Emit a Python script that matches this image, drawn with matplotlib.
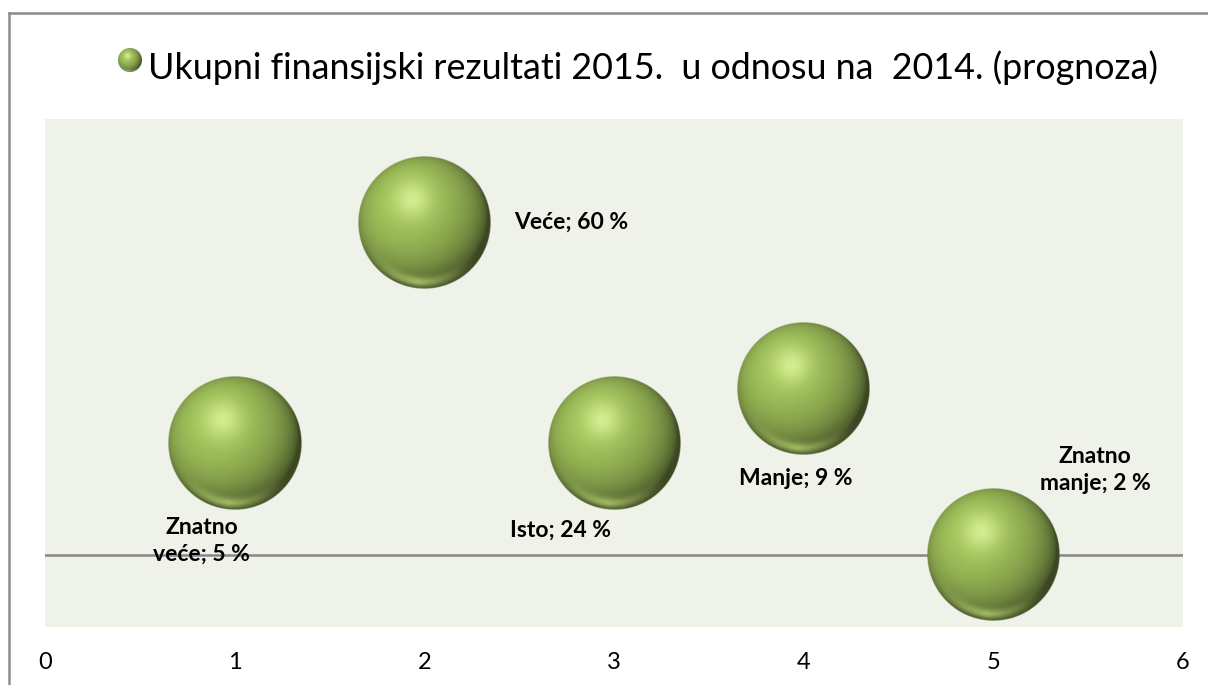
import numpy as np
import matplotlib
matplotlib.use("Agg")
import matplotlib.pyplot as plt
from matplotlib.lines import Line2D

# ---- data ----
categories = ["Znatno veće", "Veće", "Isto", "Manje", "Znatno manje"]
shares = [5, 60, 24, 9, 2]
x_vals = [1, 2, 3, 4, 5]
y_vals = [1, 3, 1, 1.5, 0]
bubble_sizes = [1, 1, 1, 1, 1]
x_ticks = [0, 1, 2, 3, 4, 5, 6]
title = "Ukupni finansijski rezultati 2015.  u odnosu na  2014. (prognoza)"

W, H = 1208, 685
DPI = 100
fig = plt.figure(figsize=(W / DPI, H / DPI), dpi=DPI)
fig.patch.set_facecolor("white")

FONT = ["Lato", "DejaVu Sans"]


def sphere_img(n=301):
    t = np.linspace(-1, 1, n)
    X, Y = np.meshgrid(t, -t)
    R = np.sqrt(X ** 2 + Y ** 2)
    Z = np.sqrt(np.clip(1 - R ** 2, 0, 1))
    L = np.array([-0.3, 0.35, 0.9])
    L = L / np.linalg.norm(L)
    diff = np.clip(X * L[0] + Y * L[1] + Z * L[2], 0, 1)
    shade = 0.38 + 0.68 * diff ** 0.75
    base = np.array([156, 188, 88]) / 255
    c = base * shade[..., None]
    light = np.array([230, 252, 165]) / 255
    spec = np.exp(-((X + 0.18) ** 2 + (Y - 0.35) ** 2) / 0.075) * 0.7
    c = c * (1 - spec[..., None]) + light * spec[..., None]
    refl = np.array([182, 206, 112]) / 255
    rb = np.clip((-Y - 0.2) / 0.6, 0, 1) * np.clip(1 - np.abs(X + 0.1) * 1.1, 0, 1)
    rb = rb * np.exp(-((R - 0.9) ** 2) / 0.006) * 0.8
    c = c * (1 - rb[..., None]) + refl * rb[..., None]
    alpha = np.clip((1 - R) * n / 2, 0, 1)
    return np.dstack([np.clip(c, 0, 1), alpha])


IMG = sphere_img()

# outer border
fig.add_artist(Line2D([9 / W, 1], [1 - 13 / H, 1 - 13 / H], color="#8c8c8c", lw=1.8))
fig.add_artist(Line2D([9 / W, 9 / W], [0, 1 - 13 / H], color="#8c8c8c", lw=1.8))

# plot area
ax_l, ax_r, ax_t, ax_b = 45, 1183, 119, 627
ax = fig.add_axes([ax_l / W, 1 - ax_b / H, (ax_r - ax_l) / W, (ax_b - ax_t) / H])
ax.set_facecolor("#EFF2E9")
ax.set_xlim(0, 6)
ax.set_ylim(-0.65, 3.93)
for s in ax.spines.values():
    s.set_visible(False)
ax.set_yticks([])
ax.set_xticks(x_ticks)
ax.set_xticklabels([str(t) for t in x_ticks], fontsize=17, family=FONT)
ax.tick_params(axis="x", length=0, pad=18)
ax.axhline(0, color="#868686", lw=1.8, zorder=1)

px_x = (ax_r - ax_l) / 6.0
px_y = (ax_b - ax_t) / (3.93 + 0.65)
R_PX = 66.5
for xv, yv, bs in zip(x_vals, y_vals, bubble_sizes):
    dx = R_PX * bs / px_x
    dy = R_PX * bs / px_y
    ax.imshow(IMG, extent=(xv - dx, xv + dx, yv - dy, yv + dy), aspect="auto",
              zorder=3, interpolation="bilinear")
ax.set_xlim(0, 6)
ax.set_ylim(-0.65, 3.93)

# data labels (pixel offsets from bubble centres)
label_specs = [
    ("Znatno\n{}; {} %", -33, 97, "center"),
    ("{}; {} %", 90, 0, "left"),
    ("{}; {} %", -54, 86, "center"),
    ("{}; {} %", -8, 90, "center"),
    ("Znatno\n{}; {} %", 102, -85, "center"),
]
for i, (fmt, ox, oy, ha) in enumerate(label_specs):
    name = categories[i]
    if fmt.startswith("Znatno"):
        txt = fmt.format(name.split(" ", 1)[1], shares[i])
    else:
        txt = fmt.format(name, shares[i])
    ax.annotate(txt, (x_vals[i], y_vals[i]), xytext=(ox * 72 / DPI, -oy * 72 / DPI),
                textcoords="offset points", ha=ha, va="center", fontsize=16.5,
                fontweight="bold", family=FONT, zorder=5, linespacing=1.35)

# title with legend marker
mk = fig.add_axes([(130 - 12) / W, 1 - (60 + 12) / H, 24 / W, 24 / H])
mk.imshow(IMG, extent=(0, 1, 0, 1), aspect="auto", interpolation="bilinear")
mk.axis("off")
fig.text(148 / W, 1 - 68 / H, title, ha="left", va="center", fontsize=25.8, family=FONT)

fig.savefig("out.png", dpi=DPI)
